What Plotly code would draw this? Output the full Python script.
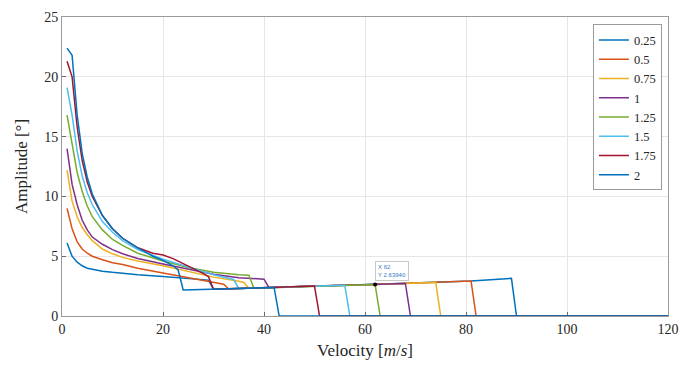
import plotly.graph_objects as go

# Series labels and colours
LABELS = ["0.25", "0.5", "0.75", "1", "1.25", "1.5", "1.75", "2"]
COLORS = ["#0072BD", "#D95319", "#EDB120", "#7E2F8E",
          "#77AC30", "#4DBEEE", "#A2142F", "#0072BD"]

# Upper branch (velocity, amplitude) for each series
up_v_025 = [1, 2, 3, 4, 5, 6, 8, 10, 12, 15, 20, 25, 29]
up_a_025 = [6.1, 5.0, 4.5, 4.2, 4.0, 3.9, 3.75, 3.65, 3.55, 3.45, 3.3, 3.15, 3.0]

up_v_05 = [1, 2, 3, 4, 5, 6, 8, 10, 12, 15, 20, 25, 30, 32]
up_a_05 = [9.0, 7.3, 6.2, 5.6, 5.25, 5.0, 4.7, 4.45, 4.3, 4.0, 3.6, 3.2, 2.85, 2.65]

up_v_075 = [1, 2, 3, 4, 5, 6, 8, 10, 12, 15, 20, 25, 30, 35, 36]
up_a_075 = [12.2, 9.6, 8.3, 7.4, 6.8, 6.3, 5.6, 5.2, 4.9, 4.6, 4.2, 3.7, 3.25, 2.9, 2.8]

up_v_1 = [1, 2, 3, 4, 5, 6, 8, 10, 12, 15, 20, 25, 30, 35, 38, 40]
up_a_1 = [14.0, 11.0, 9.3, 8.0, 7.2, 6.6, 6.0, 5.55, 5.2, 4.8, 4.35, 3.9, 3.5, 3.2, 3.1, 3.08]

up_v_125 = [1, 2, 3, 4, 5, 6, 8, 10, 12, 15, 20, 25, 30, 35, 37]
up_a_125 = [16.8, 14.3, 12.0, 10.4, 9.2, 8.3, 7.2, 6.4, 5.9, 5.25, 4.6, 4.05, 3.65, 3.45, 3.4]

up_v_15 = [1, 2, 3, 4, 5, 6, 8, 10, 12, 15, 20, 25, 30, 34]
up_a_15 = [19.1, 16.8, 13.8, 11.7, 10.3, 9.3, 7.9, 7.0, 6.3, 5.55, 4.75, 4.1, 3.45, 3.05]

up_v_175 = [1, 2, 3, 4, 5, 6, 8, 10, 12, 15, 18, 20, 22, 25, 28, 29]
up_a_175 = [21.3, 20.0, 15.8, 13.0, 11.2, 10.0, 8.4, 7.3, 6.5, 5.7, 5.25, 5.1, 4.8, 4.2, 3.55, 3.3]

up_v_2 = [1, 2, 3, 4, 5, 6, 8, 10, 12, 15, 18, 20, 22, 23]
up_a_2 = [22.4, 21.8, 16.8, 13.6, 11.6, 10.2, 8.4, 7.3, 6.5, 5.7, 5.0, 4.65, 4.2, 3.85]

UP_V = [up_v_025, up_v_05, up_v_075, up_v_1, up_v_125, up_v_15, up_v_175, up_v_2]
UP_A = [up_a_025, up_a_05, up_a_075, up_a_1, up_a_125, up_a_15, up_a_175, up_a_2]

# Shared lower branch
LOWER_V = [24, 30, 33, 35, 37, 38, 41, 42, 50, 56, 62, 68, 74, 81, 89]
LOWER_A = [2.17, 2.24, 2.27, 2.30, 2.32, 2.33, 2.37, 2.39, 2.50, 2.57,
           2.6394, 2.72, 2.81, 2.92, 3.15]

# First / last velocity of each series on the lower branch
LOWER_START = [30, 33, 37, 41, 38, 35, 30, 24]
LOWER_END = [89, 81, 74, 68, 62, 56, 50, 42]

V_MAX = 120
TIP_V = 62

SERIF = "Liberation Serif"

fig = go.Figure()
for i, lab in enumerate(LABELS):
    xs = list(UP_V[i])
    ys = list(UP_A[i])
    for v, a in zip(LOWER_V, LOWER_A):
        if LOWER_START[i] <= v <= LOWER_END[i]:
            xs.append(v)
            ys.append(a)
    xs += [LOWER_END[i] + 1, V_MAX]
    ys += [0, 0]
    fig.add_trace(go.Scatter(x=xs, y=ys, mode="lines", name=lab,
                             line=dict(color=COLORS[i], width=1.5)))

tip_a = LOWER_A[LOWER_V.index(TIP_V)]
fig.add_trace(go.Scatter(x=[TIP_V], y=[tip_a], mode="markers", showlegend=False,
                         marker=dict(color="black", size=4)))
fig.add_annotation(x=TIP_V, y=tip_a, xref="x", yref="y",
                   text=f"X {TIP_V}<br>Y {tip_a:.5f}", showarrow=False,
                   xanchor="left", yanchor="bottom", yshift=3, align="left",
                   font=dict(size=6, color="#2f78c0", family="Liberation Sans"),
                   bgcolor="rgba(255,255,255,0.9)", bordercolor="#c8c8c8",
                   borderwidth=1, borderpad=2)

axis_common = dict(showgrid=True, gridcolor="#e6e6e6", gridwidth=1,
                   showline=True, linecolor="#9a9a9a", linewidth=1, mirror=True,
                   ticks="inside", ticklen=4, tickcolor="#6a6a6a",
                   zeroline=False, layer="below traces", automargin=False,
                   tickfont=dict(size=14, color="#262626", family=SERIF))

fig.update_xaxes(range=[0, 120], tickvals=[0, 20, 40, 60, 80, 100, 120],
                 title=dict(text="Velocity [<i>m</i>/<i>s</i>]",
                            font=dict(size=17, color="#262626", family=SERIF),
                            standoff=8),
                 **axis_common)
fig.update_yaxes(range=[0, 25], tickvals=[0, 5, 10, 15, 20, 25],
                 title=dict(text="Amplitude [°]",
                            font=dict(size=17, color="#262626", family=SERIF),
                            standoff=12),
                 **axis_common)

fig.update_layout(
    width=683, height=368,
    margin=dict(l=62, r=15, t=17, b=52),
    paper_bgcolor="white", plot_bgcolor="white",
    font=dict(family=SERIF, color="#262626"),
    legend=dict(x=0.99, y=0.975, xanchor="right", yanchor="top",
                bgcolor="white", bordercolor="#9a9a9a", borderwidth=1,
                font=dict(size=12.5, color="#262626", family=SERIF), itemwidth=30,
                tracegroupgap=0),
    showlegend=True,
)

fig.write_html("out.html")
